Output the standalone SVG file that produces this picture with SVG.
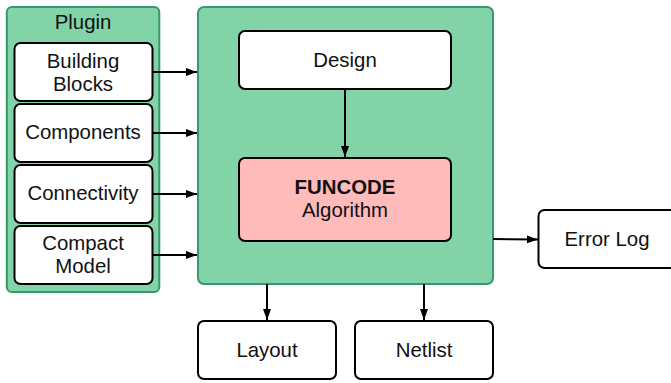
<svg xmlns="http://www.w3.org/2000/svg" width="671" height="383" viewBox="0 0 671 383">
<style>
text{font-family:"Liberation Sans",Arial,sans-serif;font-size:20.4px;fill:#111;text-anchor:middle}
.g{fill:#82d3a8;stroke:#35996a;stroke-width:2}
.w{fill:#fff;stroke:#000;stroke-width:2}
.p{fill:#ffbaba;stroke:#000;stroke-width:2}
.c line{stroke:#000;stroke-width:2}
</style>
<defs><marker id="a" markerUnits="userSpaceOnUse" markerWidth="12" markerHeight="10" refX="11" refY="5" orient="auto"><path d="M0 1L11 5L0 9Z" fill="#000"/></marker></defs>
<rect width="671" height="383" fill="#fff"/>
<g id="plugin"><rect class="g" x="6.8" y="7" width="152.5" height="285" rx="5"/><text x="83" y="29">Plugin</text></g>
<g id="main"><rect class="g" x="198" y="7" width="295" height="277" rx="6"/></g>
<g id="building-blocks"><rect class="w" x="14.5" y="43" width="138" height="58" rx="6"/><text x="83" y="68">Building</text><text x="83" y="91">Blocks</text></g>
<g id="components"><rect class="w" x="14.5" y="104" width="138" height="58" rx="6"/><text x="83" y="139">Components</text></g>
<g id="connectivity"><rect class="w" x="14.5" y="165" width="138" height="58" rx="6"/><text x="83" y="200">Connectivity</text></g>
<g id="compact-model"><rect class="w" x="14.5" y="226" width="138" height="58" rx="6"/><text x="83" y="250">Compact</text><text x="83" y="273">Model</text></g>
<g id="design"><rect class="w" x="239" y="31" width="212" height="58" rx="6"/><text x="345" y="67">Design</text></g>
<g id="funcode"><rect class="p" x="239" y="158" width="212" height="83" rx="6"/><text x="345" y="194" style="font-weight:bold">FUNCODE</text><text x="345" y="217">Algorithm</text></g>
<g id="error-log"><rect class="w" x="538.5" y="210" width="140" height="58" rx="6"/><text x="607" y="246">Error Log</text></g>
<g id="layout"><rect class="w" x="198" y="321" width="138" height="58" rx="6"/><text x="267" y="357">Layout</text></g>
<g id="netlist"><rect class="w" x="355" y="321" width="138" height="58" rx="6"/><text x="424" y="357">Netlist</text></g>
<g class="c">
<line x1="152.5" y1="72" x2="197" y2="72" marker-end="url(#a)"/>
<line x1="152.5" y1="133" x2="197" y2="133" marker-end="url(#a)"/>
<line x1="152.5" y1="194" x2="197" y2="194" marker-end="url(#a)"/>
<line x1="152.5" y1="255" x2="197" y2="255" marker-end="url(#a)"/>
<line x1="345" y1="89" x2="345" y2="157" marker-end="url(#a)"/>
<line x1="493" y1="239" x2="538" y2="239.5" marker-end="url(#a)"/>
<line x1="267" y1="284" x2="267" y2="320" marker-end="url(#a)"/>
<line x1="424" y1="284" x2="424" y2="320" marker-end="url(#a)"/>
</g>
</svg>
